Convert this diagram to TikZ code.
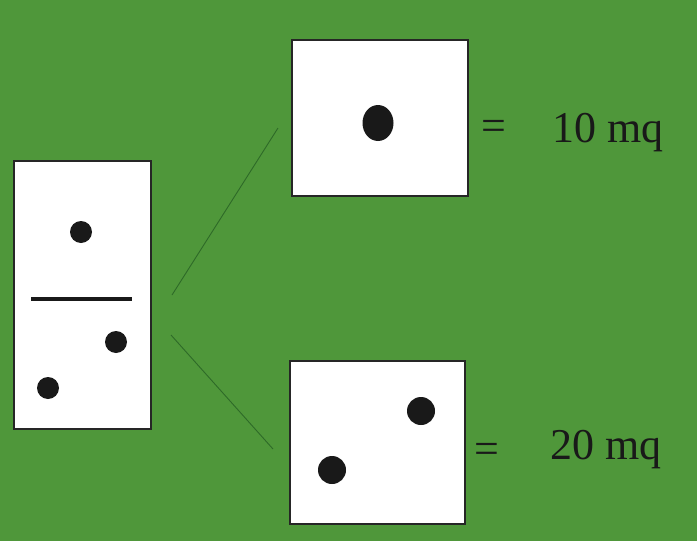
\documentclass[tikz,border=0pt]{standalone}
\usepackage{fontspec}
\setmainfont{Liberation Serif}
\definecolor{bg}{HTML}{4F973A}
\definecolor{ln}{HTML}{2E6A28}
\begin{document}
\begin{tikzpicture}[x=1pt,y=-1pt,
  tile/.style={draw=black!85,line width=1.6pt,fill=white},
  pip/.style={fill=black!90},
  lbl/.style={font=\fontsize{44}{48}\selectfont,text=black!90,inner sep=0pt,anchor=base},
  conn/.style={draw=ln,line width=0.9pt}]
\fill[bg] (0,0) rectangle (697,541);
\useasboundingbox (0,0) rectangle (697,541);
% domino
\draw[tile] (14,161) rectangle (151,429);
\draw[black!90,line width=4pt] (31,299) -- (132,299);
\fill[pip] (81,232) circle (11);
\fill[pip] (116,342) circle (11);
\fill[pip] (48,388) circle (11);
% top square
\node[tile,minimum width=176pt,minimum height=156pt,inner sep=0pt] (top) at (380,118) {};
\fill[pip] (378,123) ellipse (15.5 and 18);
% bottom square
\node[tile,minimum width=175pt,minimum height=163pt,inner sep=0pt] (bot) at (377.5,442.5) {};
\fill[pip] (421,411) circle (14);
\fill[pip] (332,470) circle (14);
% connectors
\coordinate (a1) at (172,295);
\coordinate (a2) at (278,128);
\coordinate (b1) at (171,335);
\coordinate (b2) at (273,449);
\draw[conn] (a1) -- (a2);
\draw[conn] (b1) -- (b2);
% labels
\node[lbl] (eq1) at (494,140) {=};
\node[lbl,anchor=base west] (v1) at (552,142) {10 mq};
\node[lbl] (eq2) at (487,463) {=};
\node[lbl,anchor=base west] (v2) at (550,459) {20 mq};
\end{tikzpicture}
\end{document}
